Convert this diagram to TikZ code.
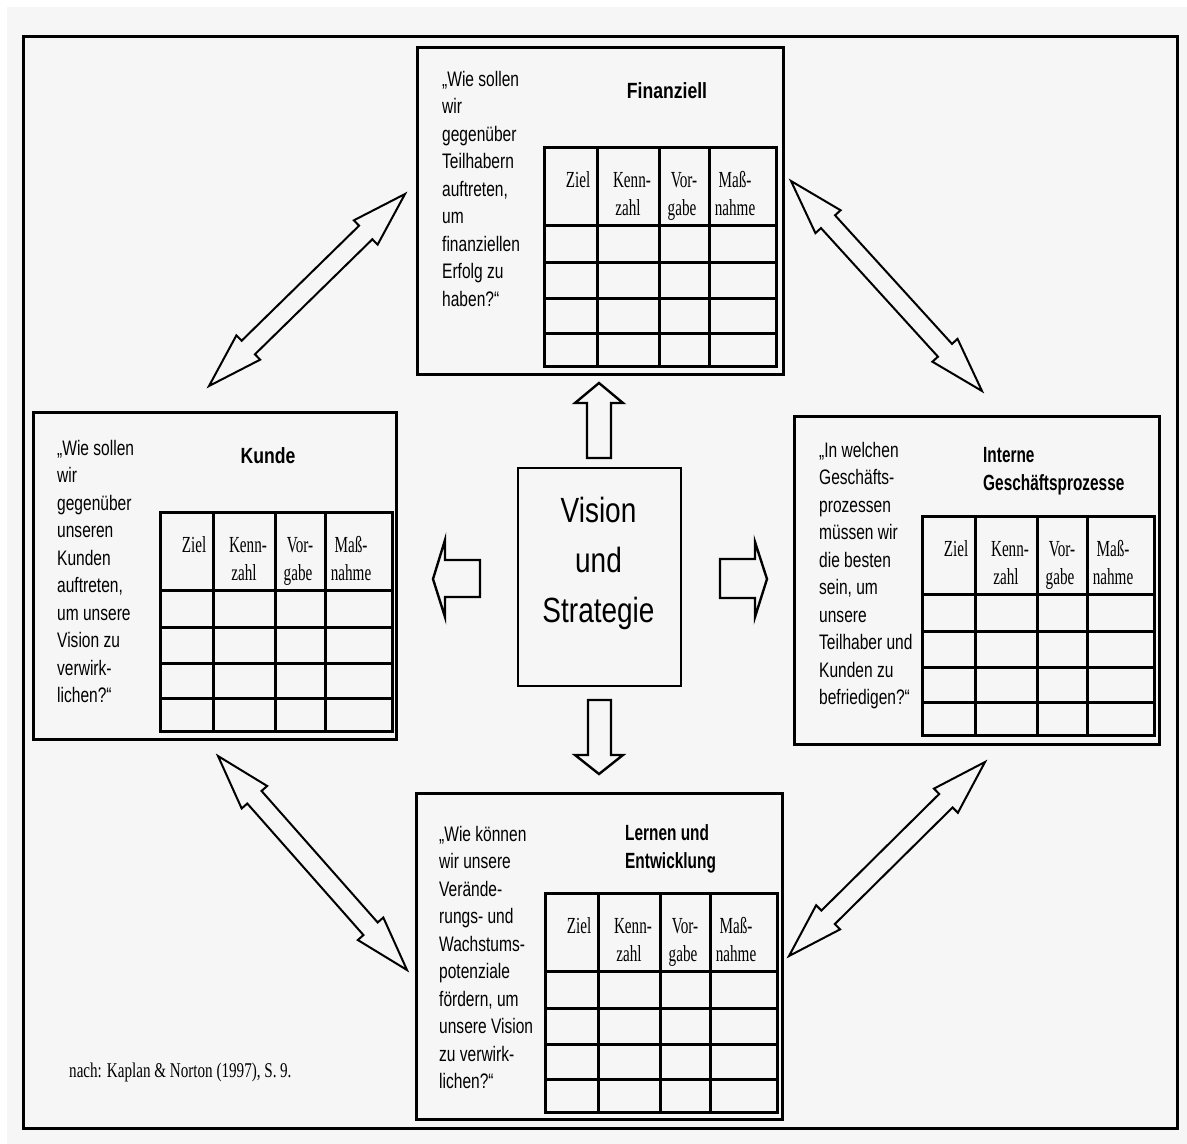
\documentclass[tikz,border=0pt]{standalone}
\usepackage{fontspec}
\usetikzlibrary{calc}
% narrow faces for the question texts, titles, table heads and the source line
\newfontfamily\qfont[FakeStretch=0.74]{Liberation Sans}
\newfontfamily\ttlfont[FakeStretch=0.8]{Liberation Sans}
\newfontfamily\ttlnarrow[FakeStretch=0.7]{Liberation Sans}
\newfontfamily\hdfont[FakeStretch=0.66]{Liberation Serif}
\newfontfamily\srcfont[FakeStretch=0.72]{Liberation Serif}
\newfontfamily\visfont[FakeStretch=0.8]{Liberation Sans}
\definecolor{paper}{HTML}{F6F6F6}

% score table: header row plus four empty rows, origin at its top left corner
\newcommand\kstable[2]{%
  \begin{scope}[shift={(#1,#2)}]
    \draw[grid] (0,0) rectangle (232,219);
    \foreach \cx in {53,115,165} \draw[grid] (\cx,0) -- (\cx,219);
    \foreach \ry in {78,115,151,186} \draw[grid] (0,\ry) -- (232,\ry);
    \node[hd] at (34,40) {Ziel};
    \node[hd] at (88,40) {Kenn-};
    \node[hd] at (84,68) {zahl};
    \node[hd] at (140,40) {Vor-};
    \node[hd] at (138,68) {gabe};
    \node[hd] at (191,40) {Maß-};
    \node[hd] at (191,68) {nahme};
  \end{scope}}

% hollow double-headed arrow between two named coordinates
\newcommand\dblarrow[2]{%
  \path let \p1=($(#2)-(#1)$) in \pgfextra{%
    \pgfmathsetmacro\arrang{atan2(\y1,\x1)}%
    \pgfmathsetmacro\arrlen{veclen(\x1,\y1)}%
    \xdef\arrang{\arrang}\xdef\arrlen{\arrlen}};
  \begin{scope}[shift={(#1)}, rotate=\arrang]
    \draw[dbl] (0pt,0pt) -- (55pt,17pt) -- (55pt,9.5pt)
      -- ({\arrlen pt-55pt},9.5pt) -- ({\arrlen pt-55pt},17pt)
      -- ({\arrlen pt},0pt)
      -- ({\arrlen pt-55pt},-17pt) -- ({\arrlen pt-55pt},-9.5pt)
      -- (55pt,-9.5pt) -- (55pt,-17pt) -- cycle;
  \end{scope}}

\begin{document}
\begin{tikzpicture}[x=1pt, y=-1pt,
  persp/.style={draw=black, line width=3pt, inner sep=0pt, anchor=north west},
  grid/.style={line width=3pt, line cap=rect},
  hd/.style={font=\hdfont\fontsize{23pt}{28pt}\selectfont, anchor=base, inner sep=0pt},
  quest/.style={font=\qfont\fontsize{21pt}{27.5pt}\selectfont, align=left, anchor=north west, inner sep=0pt},
  ttl/.style={font=\ttlfont\bfseries\fontsize{22pt}{29pt}\selectfont, inner sep=0pt},
  ttln/.style={font=\ttlnarrow\bfseries\fontsize{22pt}{28.5pt}\selectfont, inner sep=0pt, align=left, anchor=north west},
  blk/.style={draw=black, line width=2.4pt, line join=miter},
  dbl/.style={draw=black, line width=2pt, line join=miter}]

\useasboundingbox (0,0) rectangle (1187,1144);
\fill[white] (0,0) rectangle (1187,1144);
\fill[paper] (7,7) rectangle (1187,1144);

% outer frame
\draw[line width=3pt] (23,36) rectangle (1177,1128);

% the four perspectives
\node[persp, minimum width=366pt, minimum height=327pt] (fin) at (416,46) {};
\node[persp, minimum width=363pt, minimum height=327pt] (kun) at (32,411) {};
\node[persp, minimum width=365pt, minimum height=328pt] (int) at (793,415) {};
\node[persp, minimum width=366pt, minimum height=326pt] (ler) at (415,792) {};

% centre box
\node[draw=black, line width=2.4pt, inner sep=0pt, anchor=north west,
      minimum width=163pt, minimum height=218pt] (vis) at (517,467) {};
\node[font=\visfont\fontsize{35pt}{50pt}\selectfont, align=center, anchor=north, inner sep=0pt]
  (vistext) at (598.5,497) {Vision\\und\\Strategie};

% titles
\node[ttl, anchor=base] (finttl) at (667,98) {Finanziell};
\node[ttl, anchor=base] (kunttl) at (268,463) {Kunde};
\node[ttln] (intttl) at (983,447) {Interne\\Geschäftsprozesse};
\node[ttln] (lerttl) at (625,824) {Lernen und\\Entwicklung};

% guiding questions
\node[quest] (finq) at (442,71) {„Wie sollen\\wir\\gegenüber\\Teilhabern\\auftreten,\\um\\finanziellen\\Erfolg zu\\haben?“};
\node[quest] (kunq) at (57,440) {„Wie sollen\\wir\\gegenüber\\unseren\\Kunden\\auftreten,\\um unsere\\Vision zu\\verwirk-\\lichen?“};
\node[quest] (intq) at (819,442) {„In welchen\\Geschäfts-\\prozessen\\müssen wir\\die besten\\sein, um\\unsere\\Teilhaber und\\Kunden zu\\befriedigen?“};
\node[quest] (lerq) at (439,826) {„Wie können\\wir unsere\\Verände-\\rungs- und\\Wachstums-\\potenziale\\fördern, um\\unsere Vision\\zu verwirk-\\lichen?“};

% score tables
\kstable{544}{147}
\kstable{160}{512}
\kstable{922}{516}
\kstable{545}{893}

% block arrows from the centre box
\draw[blk] (599,383) -- (623,403) -- (611,403) -- (611,458) -- (587,458) -- (587,403) -- (575,403) -- cycle;
\draw[blk] (599,774) -- (623,755) -- (611,755) -- (611,700) -- (588,700) -- (588,755) -- (575,755) -- cycle;
\draw[blk] (433,579) -- (445,540) -- (445,560) -- (480,560) -- (480,597) -- (445,597) -- (445,617) -- cycle;
\draw[blk] (767,579) -- (755,542) -- (755,559) -- (720,559) -- (720,598) -- (755,598) -- (755,617) -- cycle;

% links between neighbouring perspectives
\coordinate (tlA) at (209,386);
\coordinate (tlB) at (405,194);
\coordinate (trA) at (791,181);
\coordinate (trB) at (982,391);
\coordinate (blA) at (218,756);
\coordinate (blB) at (407,970);
\coordinate (brA) at (789,956);
\coordinate (brB) at (985,762);
\dblarrow{tlA}{tlB}
\dblarrow{trA}{trB}
\dblarrow{blA}{blB}
\dblarrow{brA}{brB}

% source
\node[font=\srcfont\fontsize{21pt}{25pt}\selectfont, anchor=base west, inner sep=0pt]
  (src) at (69,1077) {nach: Kaplan \& Norton (1997), S.\,9.};
\end{tikzpicture}
\end{document}
